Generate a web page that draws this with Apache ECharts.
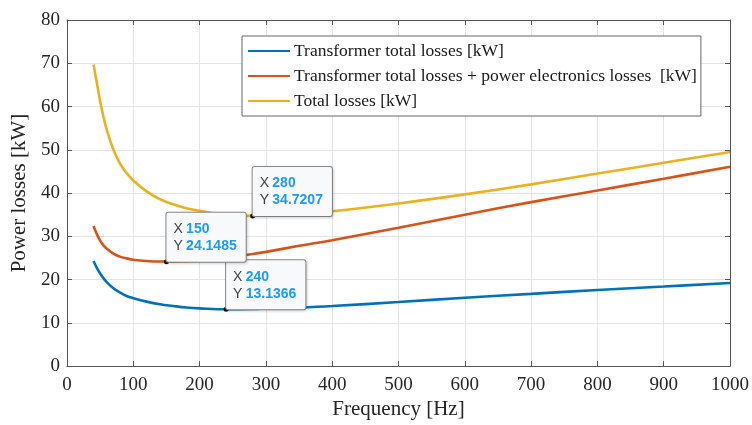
<!DOCTYPE html>
<html>
<head>
<meta charset="utf-8">
<script src="https://cdn.jsdelivr.net/npm/echarts@6/dist/echarts.min.js"></script>
<style>html,body{margin:0;padding:0;background:#fff}#c{width:752px;height:425px}</style>
</head>
<body>
<div id="c"></div>
<script>
const freq = [40,45,50,55,60,70,80,90,100,120,140,160,180,200,240,280,300,350,400,500,600,700,800,900,1000];
const transformerLosses = [24.3,22.7,21.4,20.3,19.4,18.0,17.0,16.2,15.7,14.9,14.3,13.9,13.55,13.35,13.1366,13.2,13.3,13.55,13.9,14.8,15.8,16.7,17.6,18.4,19.2];
const transformerPlusPE = [32.4,30.5,29.0,27.9,27.1,26.0,25.3,24.9,24.6,24.3,24.17,24.16,24.25,24.4,25.0,25.9,26.4,27.8,29.1,32.0,35.0,37.9,40.6,43.3,46.1];
const totalLosses = [69.7,65.5,61.2,57.6,54.6,50.0,46.8,44.6,42.9,40.4,38.6,37.4,36.5,35.9,35.0,34.72,34.8,35.2,35.8,37.6,39.7,42.0,44.5,47.0,49.5];
const seriesNames = ['Transformer total losses [kW]','Transformer total losses + power electronics losses  [kW]','Total losses [kW]'];
const tipBlue = [240, 13.1366];
const tipOrange = [150, 24.1485];
const tipYellow = [280, 34.7207];
const xTicks = {min:0, max:1000, interval:100};
const yTicks = {min:0, max:80, interval:10};

function pairs(xs, ys){ return xs.map((x,i)=>[x, ys[i]]); }
function tip(pt){
  return {
    data:[{coord:pt}],
    symbol:'circle', symbolSize:5,
    itemStyle:{color:'#111'},
    label:{
      show:true,
      position:[2.5,2.5], align:'left', verticalAlign:'bottom',
      formatter:'{a|X} {b|'+pt[0]+'}\n{a|Y} {b|'+pt[1]+'}',
      backgroundColor:'#f8f9fb', borderColor:'#8c8c8c', borderWidth:1, borderRadius:2,
      padding:[8,9,7,7],
      shadowColor:'rgba(0,0,0,0.15)', shadowBlur:3, shadowOffsetX:1, shadowOffsetY:1,
      rich:{
        a:{fontFamily:'Liberation Sans', fontSize:14, color:'#404040', lineHeight:17},
        b:{fontFamily:'Liberation Sans', fontSize:14, fontWeight:'bold', color:'#1a9bff', lineHeight:17}
      }
    },
    z:10
  };
}
const serif = 'Liberation Serif';
const axisLineStyle = {color:'#555', width:1};
const chart = echarts.init(document.getElementById('c'));
chart.setOption({
  animation:false,
  backgroundColor:'#fff',
  grid:{left:67, right:21, top:20, bottom:53, containLabel:false},
  legend:{
    orient:'vertical', left:242, top:36,
    data:seriesNames,
    backgroundColor:'#fff', borderColor:'#666', borderWidth:1,
    padding:[6,4,6,5], itemGap:7, itemWidth:42, itemHeight:14,
    itemStyle:{opacity:0},
    textStyle:{fontFamily:serif, fontSize:17.5, color:'#1a1a1a', padding:[0,0,0,-1]}
  },
  xAxis:[{
    type:'value', min:xTicks.min, max:xTicks.max, interval:xTicks.interval,
    name:'Frequency [Hz]', nameLocation:'middle', nameGap:31,
    nameTextStyle:{fontFamily:serif, fontSize:21, color:'#262626'},
    axisLine:{show:true, onZero:false, lineStyle:axisLineStyle},
    axisTick:{show:true, inside:true, length:5, lineStyle:axisLineStyle},
    axisLabel:{fontFamily:serif, fontSize:19, color:'#262626', margin:9, formatter:v=>String(v)},
    splitLine:{show:true, lineStyle:{color:'#e3e3e3', width:1}}
  },{
    type:'value', position:'top', min:xTicks.min, max:xTicks.max, interval:xTicks.interval,
    axisLine:{show:true, onZero:false, lineStyle:axisLineStyle},
    axisTick:{show:true, inside:true, length:5, lineStyle:axisLineStyle},
    axisLabel:{show:false}, splitLine:{show:false}
  }],
  yAxis:[{
    type:'value', min:yTicks.min, max:yTicks.max, interval:yTicks.interval,
    name:'Power losses [kW]', nameLocation:'middle', nameGap:32, nameRotate:90,
    nameTextStyle:{fontFamily:serif, fontSize:21, color:'#262626'},
    axisLine:{show:true, onZero:false, lineStyle:axisLineStyle},
    axisTick:{show:true, inside:true, length:5, lineStyle:axisLineStyle},
    axisLabel:{fontFamily:serif, fontSize:19, color:'#262626', margin:7},
    splitLine:{show:true, lineStyle:{color:'#e3e3e3', width:1}}
  },{
    type:'value', position:'right', min:yTicks.min, max:yTicks.max, interval:yTicks.interval,
    axisLine:{show:true, onZero:false, lineStyle:axisLineStyle},
    axisTick:{show:true, inside:true, length:5, lineStyle:axisLineStyle},
    axisLabel:{show:false}, splitLine:{show:false}
  }],
  series:[
    {name:seriesNames[0], type:'line', data:pairs(freq, transformerLosses), smooth:0.4, symbol:'none',
     lineStyle:{color:'#0072BD', width:2.6}, itemStyle:{color:'#0072BD'}, markPoint:tip(tipBlue)},
    {name:seriesNames[1], type:'line', data:pairs(freq, transformerPlusPE), smooth:0.4, symbol:'none',
     lineStyle:{color:'#D95319', width:2.6}, itemStyle:{color:'#D95319'}, markPoint:tip(tipOrange)},
    {name:seriesNames[2], type:'line', data:pairs(freq, totalLosses), smooth:0.4, symbol:'none',
     lineStyle:{color:'#EDB120', width:2.6}, itemStyle:{color:'#EDB120'}, markPoint:tip(tipYellow)}
  ]
});
</script>
</body>
</html>
